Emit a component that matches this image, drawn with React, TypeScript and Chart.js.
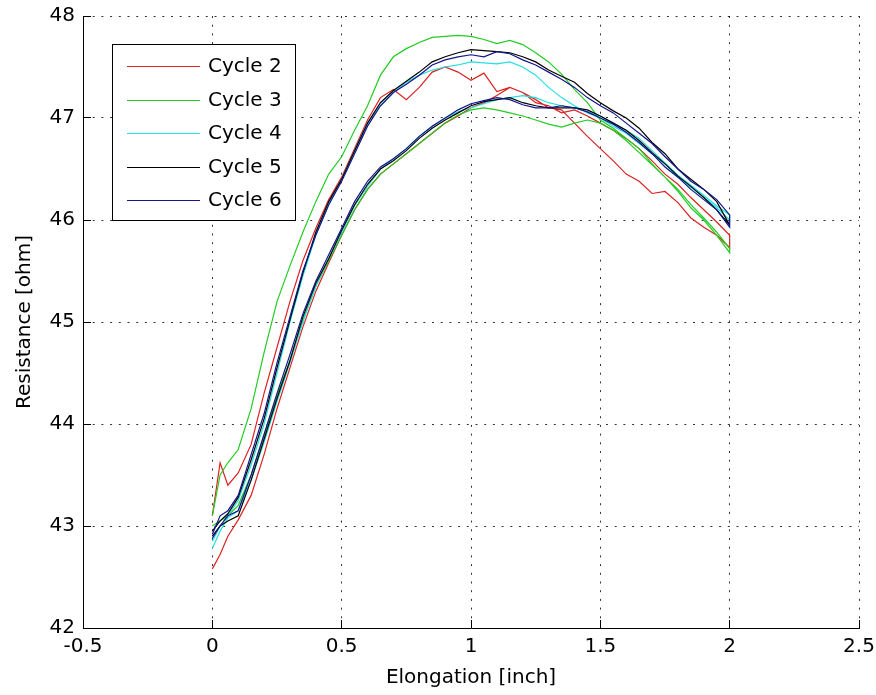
import React, { useEffect, useRef } from 'react';
import { Chart, registerables } from 'chart.js';

Chart.register(...registerables);

// Elongation grid [inch] shared by every branch
const ELONGATION = [0, 0.03, 0.06, 0.1, 0.15, 0.2, 0.25, 0.3, 0.35, 0.4, 0.45, 0.5, 0.55, 0.6, 0.65, 0.7, 0.75, 0.8, 0.85, 0.9, 0.95, 1.0, 1.05, 1.1, 1.15, 1.2, 1.25, 1.3, 1.35, 1.4, 1.45, 1.5, 1.55, 1.6, 1.65, 1.7, 1.75, 1.8, 1.85, 1.9, 1.95, 2.0];

const CYCLE_LABELS = ['Cycle 2', 'Cycle 3', 'Cycle 4', 'Cycle 5', 'Cycle 6'];
const CYCLE_COLORS = ['#dd2222', '#22cc22', '#22e0e0', '#000000', '#14148c'];

// Resistance [ohm], loading branch (x ascending)
const CYCLE2_LOAD = [43.10, 43.62, 43.40, 43.52, 43.80, 44.30, 44.75, 45.20, 45.60, 45.92, 46.20, 46.42, 46.70, 46.98, 47.20, 47.28, 47.18, 47.30, 47.45, 47.50, 47.45, 47.37, 47.44, 47.26, 47.30, 47.25, 47.18, 47.10, 47.08, 46.95, 46.82, 46.70, 46.58, 46.45, 46.38, 46.26, 46.28, 46.17, 46.02, 45.93, 45.85, 45.73];
const CYCLE3_LOAD = [43.10, 43.50, 43.62, 43.75, 44.15, 44.70, 45.20, 45.55, 45.88, 46.18, 46.45, 46.62, 46.88, 47.12, 47.42, 47.60, 47.68, 47.74, 47.79, 47.80, 47.81, 47.80, 47.77, 47.73, 47.76, 47.72, 47.64, 47.55, 47.43, 47.28, 47.15, 46.98, 46.90, 46.80, 46.70, 46.55, 46.42, 46.30, 46.15, 46.02, 45.88, 45.72];
const CYCLE4_LOAD = [42.85, 43.00, 43.10, 43.25, 43.60, 44.00, 44.50, 45.00, 45.45, 45.85, 46.15, 46.40, 46.68, 46.95, 47.12, 47.25, 47.35, 47.42, 47.47, 47.50, 47.52, 47.55, 47.54, 47.53, 47.55, 47.50, 47.42, 47.30, 47.20, 47.12, 47.05, 47.00, 46.92, 46.85, 46.75, 46.65, 46.55, 46.42, 46.32, 46.22, 46.12, 46.00];
const CYCLE5_LOAD = [42.95, 43.05, 43.12, 43.28, 43.65, 44.05, 44.55, 45.02, 45.48, 45.88, 46.18, 46.40, 46.68, 46.95, 47.15, 47.27, 47.36, 47.45, 47.55, 47.60, 47.64, 47.67, 47.66, 47.65, 47.64, 47.60, 47.55, 47.47, 47.41, 47.35, 47.24, 47.15, 47.07, 47.00, 46.90, 46.76, 46.65, 46.50, 46.40, 46.30, 46.18, 45.95];
const CYCLE6_LOAD = [42.92, 43.10, 43.15, 43.30, 43.70, 44.10, 44.60, 45.05, 45.50, 45.85, 46.15, 46.38, 46.65, 46.92, 47.12, 47.25, 47.33, 47.42, 47.52, 47.57, 47.60, 47.62, 47.60, 47.65, 47.63, 47.57, 47.52, 47.45, 47.38, 47.30, 47.20, 47.12, 47.05, 46.95, 46.85, 46.75, 46.62, 46.50, 46.38, 46.30, 46.20, 46.05];

// Resistance [ohm], unloading branch (listed at x ascending, drawn back from 2 to 0)
const CYCLE2_UNLOAD = [42.58, 42.72, 42.90, 43.06, 43.30, 43.70, 44.15, 44.55, 44.95, 45.30, 45.58, 45.85, 46.10, 46.30, 46.45, 46.55, 46.65, 46.75, 46.85, 46.95, 47.02, 47.10, 47.15, 47.22, 47.30, 47.25, 47.15, 47.12, 47.05, 47.08, 47.02, 46.95, 46.88, 46.80, 46.70, 46.58, 46.45, 46.35, 46.22, 46.10, 45.98, 45.85];
const CYCLE3_UNLOAD = [43.00, 43.05, 43.10, 43.20, 43.50, 43.88, 44.28, 44.62, 45.02, 45.35, 45.60, 45.85, 46.10, 46.30, 46.45, 46.55, 46.65, 46.75, 46.85, 46.95, 47.03, 47.08, 47.10, 47.08, 47.05, 47.02, 46.98, 46.94, 46.91, 46.95, 46.98, 46.95, 46.88, 46.78, 46.66, 46.54, 46.42, 46.28, 46.12, 46.00, 45.85, 45.68];
const CYCLE4_UNLOAD = [42.78, 42.95, 43.08, 43.15, 43.45, 43.82, 44.22, 44.60, 45.00, 45.35, 45.62, 45.88, 46.14, 46.33, 46.50, 46.60, 46.70, 46.82, 46.92, 47.00, 47.06, 47.10, 47.14, 47.18, 47.20, 47.22, 47.20, 47.15, 47.12, 47.10, 47.06, 47.02, 46.95, 46.88, 46.80, 46.68, 46.56, 46.44, 46.34, 46.24, 46.14, 46.05];
const CYCLE5_UNLOAD = [42.90, 43.00, 43.05, 43.10, 43.45, 43.85, 44.25, 44.62, 45.05, 45.38, 45.62, 45.90, 46.15, 46.35, 46.50, 46.58, 46.68, 46.80, 46.90, 46.98, 47.05, 47.12, 47.16, 47.18, 47.20, 47.15, 47.12, 47.10, 47.10, 47.10, 47.08, 47.02, 46.95, 46.88, 46.78, 46.66, 46.55, 46.43, 46.33, 46.22, 46.10, 45.95];
const CYCLE6_UNLOAD = [42.88, 43.00, 43.10, 43.15, 43.50, 43.90, 44.30, 44.68, 45.08, 45.40, 45.66, 45.92, 46.18, 46.38, 46.52, 46.60, 46.70, 46.82, 46.92, 47.00, 47.08, 47.14, 47.17, 47.20, 47.18, 47.13, 47.10, 47.10, 47.12, 47.10, 47.06, 47.00, 46.94, 46.86, 46.76, 46.65, 46.52, 46.42, 46.30, 46.20, 46.10, 45.93];

const LOADS = [CYCLE2_LOAD, CYCLE3_LOAD, CYCLE4_LOAD, CYCLE5_LOAD, CYCLE6_LOAD];
const UNLOADS = [CYCLE2_UNLOAD, CYCLE3_UNLOAD, CYCLE4_UNLOAD, CYCLE5_UNLOAD, CYCLE6_UNLOAD];

const X_TICKS = [-0.5, 0, 0.5, 1, 1.5, 2, 2.5];
const Y_TICKS = [42, 43, 44, 45, 46, 47, 48];

const FONT = 'DejaVu Sans';
const TICK_LEN = 8;

const align = (p: number) => Math.round(p - 0.5) + 0.5;

const inwardTicks = {
  id: 'inwardTicks',
  afterDatasetsDraw(chart: any) {
    const { ctx, chartArea, scales } = chart;
    const { left, bottom } = chartArea;
    ctx.save();
    ctx.strokeStyle = '#000';
    ctx.lineWidth = 1;
    ctx.setLineDash([]);
    ctx.beginPath();
    for (const v of X_TICKS) {
      const px = align(scales.x.getPixelForValue(v));
      ctx.moveTo(px, bottom);
      ctx.lineTo(px, bottom - TICK_LEN);
    }
    for (const v of Y_TICKS) {
      const py = align(scales.y.getPixelForValue(v));
      ctx.moveTo(left, py);
      ctx.lineTo(left + TICK_LEN, py);
    }
    ctx.stroke();
    ctx.restore();
  },
};

const boxLegend = {
  id: 'boxLegend',
  afterDraw(chart: any) {
    const { ctx } = chart;
    const bx = 112, by = 44, bw = 183, bh = 176;
    ctx.save();
    ctx.fillStyle = '#fff';
    ctx.fillRect(bx, by, bw, bh);
    ctx.strokeStyle = '#000';
    ctx.lineWidth = 1;
    ctx.setLineDash([]);
    ctx.strokeRect(bx + 0.5, by + 0.5, bw, bh);
    ctx.font = `20px "${FONT}"`;
    ctx.textBaseline = 'middle';
    ctx.textAlign = 'left';
    chart.data.datasets.forEach((ds: any, i: number) => {
      const y = Math.round(66 + i * 33.5) + 0.5;
      ctx.strokeStyle = ds.borderColor;
      ctx.beginPath();
      ctx.moveTo(127, y);
      ctx.lineTo(200, y);
      ctx.stroke();
      ctx.fillStyle = '#000';
      ctx.fillText(ds.label, 208, y);
    });
    ctx.restore();
  },
};

export default function App() {
  const ref = useRef<HTMLCanvasElement>(null);

  useEffect(() => {
    document.body.style.margin = '0';
    const datasets = CYCLE_LABELS.map((label, i) => {
      const up = ELONGATION.map((x, k) => ({ x, y: LOADS[i][k] }));
      const down = ELONGATION.map((x, k) => ({ x, y: UNLOADS[i][k] })).reverse();
      return {
        label,
        data: [...up, ...down],
        borderColor: CYCLE_COLORS[i],
        backgroundColor: CYCLE_COLORS[i],
        borderWidth: 1.2,
        pointRadius: 0,
        showLine: true,
        fill: false,
        tension: 0,
        order: CYCLE_LABELS.length - i,
      };
    });

    const gridOpts = { color: 'rgba(0,0,0,0.8)', lineWidth: 1, drawTicks: false };
    const borderOpts = { display: true, color: '#000', width: 1, dash: [2, 6.7] };

    const chart = new Chart(ref.current as HTMLCanvasElement, {
      type: 'scatter',
      data: { datasets } as any,
      plugins: [inwardTicks, boxLegend],
      options: {
        animation: false,
        responsive: false,
        devicePixelRatio: 1,
        layout: { padding: { left: 0, right: 17, top: 16, bottom: 0 } },
        plugins: {
          legend: { display: false },
          tooltip: { enabled: false },
          title: { display: false },
        },
        scales: {
          x: {
            type: 'linear',
            min: -0.5,
            max: 2.5,
            afterBuildTicks: (s: any) => {
              s.ticks = X_TICKS.map((v) => ({ value: v }));
            },
            afterFit: (s: any) => {
              s.height = 67;
              s.paddingLeft = 0;
              s.paddingRight = 0;
            },
            ticks: {
              padding: 7,
              color: '#000',
              font: { family: FONT, size: 20 },
              maxRotation: 0,
              autoSkip: false,
              callback: (v: any) => String(v),
            },
            grid: gridOpts,
            border: borderOpts,
            title: {
              display: true,
              text: 'Elongation [inch]',
              color: '#000',
              font: { family: FONT, size: 20 },
              padding: { top: 0, bottom: 5 },
            },
          },
          y: {
            type: 'linear',
            min: 42,
            max: 48,
            afterBuildTicks: (s: any) => {
              s.ticks = Y_TICKS.map((v) => ({ value: v }));
            },
            afterFit: (s: any) => {
              s.width = 83;
              s.paddingTop = 0;
              s.paddingBottom = 0;
            },
            ticks: {
              padding: 8,
              color: '#000',
              font: { family: FONT, size: 20 },
              autoSkip: false,
              callback: (v: any) => String(v),
            },
            grid: gridOpts,
            border: borderOpts,
            title: {
              display: true,
              text: 'Resistance [ohm]',
              color: '#000',
              font: { family: FONT, size: 20 },
              padding: { top: 13, bottom: 0 },
            },
          },
        },
      } as any,
    });
    return () => chart.destroy();
  }, []);

  return (
    <div style={{ position: 'absolute', left: 0, top: 0, width: 876, height: 695, background: '#fff' }}>
      <canvas ref={ref} width={876} height={695} style={{ display: 'block' }} />
    </div>
  );
}
